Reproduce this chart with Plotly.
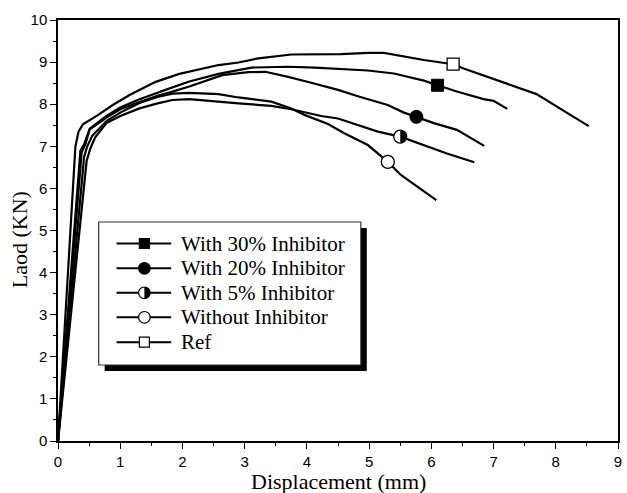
import plotly.graph_objects as go

# ---------------- data ----------------
ref_x = [0, 0.28, 0.33, 0.40, 0.64, 0.88, 1.15, 1.57, 1.95, 2.26, 2.58, 2.90, 3.22, 3.75, 4.55, 4.98, 5.24, 5.88, 6.25, 6.35, 6.52, 7.05, 7.37, 7.69, 8.11, 8.53]
ref_y = [0, 7.00, 7.35, 7.52, 7.74, 7.98, 8.22, 8.53, 8.72, 8.83, 8.93, 8.99, 9.09, 9.18, 9.19, 9.22, 9.22, 9.05, 8.97, 8.95, 8.85, 8.57, 8.40, 8.24, 7.86, 7.48]

p30_x = [0, 0.36, 0.42, 0.51, 0.78, 1.00, 1.31, 1.60, 1.84, 2.11, 2.58, 3.11, 3.70, 4.13, 4.55, 4.98, 5.40, 5.88, 6.10, 6.41, 6.84, 7.00, 7.22]
p30_y = [0, 6.90, 7.05, 7.42, 7.72, 7.92, 8.12, 8.28, 8.40, 8.54, 8.72, 8.87, 8.89, 8.87, 8.83, 8.80, 8.73, 8.56, 8.45, 8.30, 8.12, 8.08, 7.89]

p20_x = [0, 0.38, 0.44, 0.51, 0.78, 1.00, 1.31, 1.60, 1.84, 2.11, 2.64, 3.06, 3.33, 3.70, 4.07, 4.50, 4.82, 5.30, 5.56, 5.76, 6.04, 6.41, 6.85]
p20_y = [0, 6.85, 7.05, 7.40, 7.68, 7.88, 8.05, 8.20, 8.30, 8.42, 8.69, 8.76, 8.77, 8.65, 8.51, 8.34, 8.19, 7.98, 7.80, 7.70, 7.55, 7.39, 7.01]

p5_x = [0, 0.46, 0.52, 0.60, 0.78, 1.00, 1.31, 1.60, 1.84, 2.11, 2.90, 3.43, 3.75, 4.23, 4.50, 4.98, 5.14, 5.50, 5.88, 6.25, 6.69]
p5_y = [0, 6.65, 6.95, 7.22, 7.55, 7.72, 7.90, 8.02, 8.10, 8.12, 8.02, 7.96, 7.88, 7.72, 7.66, 7.43, 7.35, 7.23, 7.03, 6.83, 6.62]

p0_x = [0, 0.42, 0.47, 0.55, 0.78, 1.00, 1.31, 1.60, 1.84, 2.11, 2.58, 2.90, 3.43, 3.75, 3.97, 4.34, 4.60, 4.98, 5.14, 5.30, 5.51, 5.77, 6.08]
p0_y = [0, 6.75, 7.00, 7.25, 7.60, 7.80, 8.03, 8.17, 8.25, 8.27, 8.24, 8.16, 8.06, 7.90, 7.74, 7.53, 7.31, 7.03, 6.83, 6.63, 6.32, 6.04, 5.72]

# one marker per curve
mark_ref = (6.35, 8.95)
mark_30 = (6.10, 8.45)
mark_20 = (5.76, 7.70)
mark_5 = (5.50, 7.23)
mark_0 = (5.30, 6.63)

legend_labels = ["With 30% Inhibitor", "With 20% Inhibitor", "With 5% Inhibitor", "Without Inhibitor", "Ref"]

x_ticks = list(range(0, 10))
y_ticks = list(range(0, 11))

# ---------------- layout geometry ----------------
W, H = 627, 493
L, R, T, B = 58, 5, 20, 52
PW, PH = W - L - R, H - T - B


def pu(px):
    return (px - L) / PW


def pv(py):
    return (H - B - py) / PH


SERIF = "Liberation Serif, Times New Roman, serif"
SANS = "Liberation Sans, Arial, sans-serif"
LINE_W = 2.2

fig = go.Figure()

for xs, ys in [(ref_x, ref_y), (p30_x, p30_y), (p20_x, p20_y), (p5_x, p5_y), (p0_x, p0_y)]:
    fig.add_trace(go.Scatter(x=xs, y=ys, mode="lines", line=dict(color="black", width=LINE_W),
                             showlegend=False, hoverinfo="skip"))

MS = 13
fig.add_trace(go.Scatter(x=[mark_ref[0]], y=[mark_ref[1]], mode="markers", showlegend=False,
                         marker=dict(symbol="square", size=MS - 1, color="white", line=dict(color="black", width=1.3))))
fig.add_trace(go.Scatter(x=[mark_30[0]], y=[mark_30[1]], mode="markers", showlegend=False,
                         marker=dict(symbol="square", size=MS - 1, color="black", line=dict(color="black", width=1))))
fig.add_trace(go.Scatter(x=[mark_20[0]], y=[mark_20[1]], mode="markers", showlegend=False,
                         marker=dict(symbol="circle", size=MS, color="black", line=dict(color="black", width=1))))
fig.add_trace(go.Scatter(x=[mark_5[0]], y=[mark_5[1]], mode="markers", showlegend=False,
                         marker=dict(symbol="circle", size=MS, color="white", line=dict(color="black", width=1.3))))
fig.add_trace(go.Scatter(x=[mark_0[0]], y=[mark_0[1]], mode="markers", showlegend=False,
                         marker=dict(symbol="circle", size=MS, color="white", line=dict(color="black", width=1.3))))


def half_path(r):
    k = 0.5523 * r
    return f"M 0,{-r} C {k},{-r} {r},{-k} {r},0 C {r},{k} {k},{r} 0,{r} Z"


shapes = []
# right-half fill of the half circle marker on the curve
shapes.append(dict(type="path", xref="x", yref="y", xsizemode="pixel", ysizemode="pixel",
                   xanchor=mark_5[0], yanchor=mark_5[1], path=half_path(6.2),
                   fillcolor="black", line=dict(width=0), layer="above"))

# legend box with shadow
bx0, by0, bx1, by1 = 99, 222, 363, 365
SH = 6
shapes.append(dict(type="rect", xref="paper", yref="paper", x0=pu(bx0 + SH), x1=pu(bx1 + SH),
                   y0=pv(by1 + SH), y1=pv(by0 + SH), fillcolor="black", line=dict(width=0), layer="above"))
shapes.append(dict(type="rect", xref="paper", yref="paper", x0=pu(bx0), x1=pu(bx1),
                   y0=pv(by1), y1=pv(by0), fillcolor="white", line=dict(color="#333", width=1.2), layer="above"))

rows = [243.5, 268.3, 292.8, 317.3, 342.2]
lx0, lx1, mx = 117, 172, 145
annotations = []
kinds = ["sq_fill", "c_fill", "c_half", "c_open", "sq_open"]
for lab, ry, kind in zip(legend_labels, rows, kinds):
    shapes.append(dict(type="line", xref="paper", yref="paper", x0=pu(lx0), x1=pu(lx1), y0=pv(ry), y1=pv(ry),
                       line=dict(color="black", width=2), layer="above"))
    r = 5.5
    common = dict(xref="paper", yref="paper", xsizemode="pixel", ysizemode="pixel",
                  xanchor=pu(mx), yanchor=pv(ry), layer="above")
    if kind.startswith("sq"):
        fill = "black" if kind == "sq_fill" else "white"
        shapes.append(dict(type="rect", x0=-r + 0.5, x1=r - 0.5, y0=-r + 0.5, y1=r - 0.5, fillcolor=fill,
                           line=dict(color="black", width=1.2), **common))
    else:
        fill = "black" if kind == "c_fill" else "white"
        shapes.append(dict(type="circle", x0=-r - 0.3, x1=r + 0.3, y0=-r - 0.3, y1=r + 0.3, fillcolor=fill,
                           line=dict(color="black", width=1.2), **common))
        if kind == "c_half":
            shapes.append(dict(type="path", path=half_path(r + 0.3), fillcolor="black",
                               line=dict(width=0), **common))
    annotations.append(dict(x=pu(180), y=pv(ry), xref="paper", yref="paper", text=lab, showarrow=False,
                            xanchor="left", yanchor="middle", font=dict(family=SERIF, size=21, color="black")))

annotations.append(dict(x=pu(20), y=pv(240), xref="paper", yref="paper", text="Laod (KN)", textangle=-90,
                        showarrow=False, xanchor="center", yanchor="middle",
                        font=dict(family=SERIF, size=22, color="black")))
annotations.append(dict(x=pu(340), y=pv(481), xref="paper", yref="paper", text="Displacement (mm)",
                        showarrow=False, xanchor="center", yanchor="middle",
                        font=dict(family=SERIF, size=22, color="black")))

axis_common = dict(showgrid=False, zeroline=False, showline=True, linecolor="black", linewidth=1.5,
                   mirror=True, ticks="outside", ticklen=6, tickwidth=1.3, tickcolor="black",
                   tickfont=dict(family=SANS, size=15, color="black"),
                   minor=dict(ticks="outside", ticklen=3.5, tickwidth=1.2, tickcolor="black", showgrid=False))

fig.update_layout(
    width=W, height=H, margin=dict(l=L, r=R, t=T, b=B, pad=0),
    paper_bgcolor="white", plot_bgcolor="white",
    xaxis=dict(range=[0, 9], tickvals=x_ticks, ticktext=[str(v) for v in x_ticks], **axis_common),
    yaxis=dict(range=[0, 10], tickvals=y_ticks, ticktext=[str(v) for v in y_ticks], **axis_common),
    shapes=shapes, annotations=annotations, showlegend=False,
)
fig.update_xaxes(minor_dtick=0.5, minor_tick0=0)
fig.update_yaxes(minor_dtick=0.5, minor_tick0=0)

fig.write_html("out.html")
